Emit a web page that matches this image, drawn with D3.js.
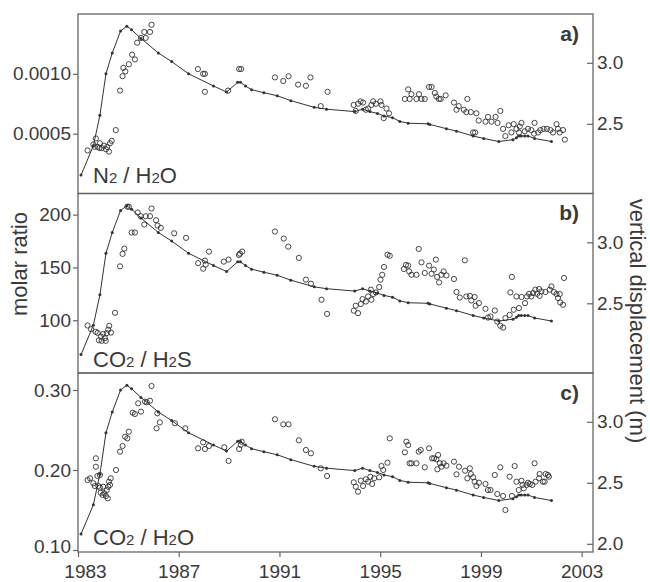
<!DOCTYPE html>
<html>
<head>
<meta charset="utf-8">
<script src="https://cdn.jsdelivr.net/npm/d3@7"></script>
<style>
body { margin: 0; background: #fff; }
svg text { font-family: "Liberation Sans", Arial, sans-serif; fill: #3a3a3a; }
</style>
</head>
<body>
<svg id="chart" width="650" height="582"></svg>
<script>
// x ticks (years)
const yearTicks = [1983, 1987, 1991, 1995, 1999, 2003];

// vertical displacement (m), same curve in every panel
const displacement = [
  [1983.12, 2.08], [1983.61, 2.32], [1983.87, 2.57], [1984.11, 2.91], [1984.36, 3.08],
  [1984.69, 3.26], [1984.94, 3.30], [1985.13, 3.27], [1985.50, 3.20], [1986.19, 3.08],
  [1986.72, 3.01], [1987.39, 2.91], [1988.38, 2.81], [1988.90, 2.76], [1989.34, 2.84],
  [1989.45, 2.84], [1989.65, 2.81], [1989.89, 2.78], [1990.38, 2.755], [1990.91, 2.73],
  [1991.45, 2.69], [1992.38, 2.635], [1992.87, 2.62], [1993.99, 2.60], [1994.30, 2.62],
  [1994.59, 2.60], [1994.89, 2.585], [1995.15, 2.565], [1995.49, 2.55], [1995.78, 2.52],
  [1996.11, 2.505], [1996.90, 2.50], [1996.97, 2.495], [1997.63, 2.46], [1998.03, 2.44],
  [1998.69, 2.40], [1999.11, 2.38], [1999.71, 2.355], [2000.27, 2.37], [2000.41, 2.385],
  [2000.50, 2.40], [2000.60, 2.40], [2000.74, 2.40], [2000.87, 2.40], [2001.13, 2.38],
  [2001.80, 2.355]
];

// N2 / H2O molar ratio
const n2h2o = [
  [1983.38, 0.00036], [1983.61, 0.00041], [1983.66, 0.00039], [1983.71, 0.00046], [1983.78, 0.00039],
  [1983.85, 0.00038], [1983.87, 0.00042], [1983.94, 0.00038], [1984.03, 0.00040], [1984.11, 0.00037],
  [1984.16, 0.00039], [1984.23, 0.00035], [1984.27, 0.00042], [1984.34, 0.00044], [1984.50, 0.00053],
  [1984.67, 0.00086], [1984.77, 0.00098], [1984.80, 0.00105], [1984.88, 0.00102], [1985.02, 0.00108],
  [1985.15, 0.00116], [1985.26, 0.00112], [1985.35, 0.00126], [1985.50, 0.00130], [1985.63, 0.00135],
  [1985.69, 0.00130], [1985.86, 0.00135], [1985.92, 0.00141],
  [1987.76, 0.00104], [1987.97, 0.00100], [1988.04, 0.00100], [1988.04, 0.00085], [1988.96, 0.00086],
  [1989.40, 0.00104], [1989.48, 0.00104], [1990.82, 0.00097], [1991.15, 0.00094], [1991.36, 0.00098],
  [1991.74, 0.00091], [1992.05, 0.00090], [1992.23, 0.00097], [1992.64, 0.00073], [1992.91, 0.00085],
  [1993.95, 0.00074], [1994.03, 0.00069], [1994.12, 0.00075], [1994.22, 0.00077], [1994.32, 0.00076],
  [1994.43, 0.00070], [1994.52, 0.00071], [1994.65, 0.00074], [1994.72, 0.00077], [1994.83, 0.00075],
  [1995.01, 0.00077], [1995.05, 0.00074], [1995.14, 0.00063], [1995.25, 0.00071], [1995.35, 0.00067],
  [1995.98, 0.00079], [1996.11, 0.00087], [1996.17, 0.00079], [1996.24, 0.00083], [1996.44, 0.00079],
  [1996.54, 0.00083], [1996.64, 0.00079], [1996.77, 0.00079], [1996.94, 0.00089], [1997.04, 0.00089],
  [1997.17, 0.00084], [1997.23, 0.00081], [1997.33, 0.00079], [1997.40, 0.00079], [1997.60, 0.00082],
  [1997.93, 0.00076], [1998.03, 0.00070], [1998.12, 0.00073], [1998.32, 0.00070], [1998.42, 0.00068],
  [1998.46, 0.00079], [1998.60, 0.00068], [1998.69, 0.00051], [1998.77, 0.00051], [1998.82, 0.00067],
  [1998.91, 0.00061], [1999.18, 0.00060], [1999.28, 0.00064], [1999.42, 0.00060], [1999.58, 0.00064],
  [1999.66, 0.00059], [1999.77, 0.00069], [1999.88, 0.00054], [1999.97, 0.00048], [2000.10, 0.00057],
  [2000.21, 0.00051], [2000.30, 0.00058], [2000.41, 0.00054], [2000.51, 0.00051], [2000.54, 0.00056],
  [2000.61, 0.00059], [2000.74, 0.00052], [2000.87, 0.00054], [2001.00, 0.00053], [2001.11, 0.00050],
  [2001.13, 0.00059], [2001.27, 0.00051], [2001.36, 0.00053], [2001.49, 0.00054], [2001.62, 0.00054],
  [2001.76, 0.00053], [2001.86, 0.00051], [2002.00, 0.00058], [2002.06, 0.00054], [2002.13, 0.00051],
  [2002.26, 0.00053], [2002.33, 0.00045]
];

// CO2 / H2S molar ratio
const co2h2s = [
  [1983.38, 95], [1983.52, 91.5], [1983.70, 89], [1983.78, 88], [1983.83, 81], [1983.91, 84.5],
  [1983.94, 80.5], [1984.00, 87], [1984.07, 83], [1984.10, 80.5], [1984.14, 87.7], [1984.20, 91],
  [1984.24, 94.7], [1984.31, 88.3], [1984.47, 107], [1984.67, 151], [1984.77, 162.8], [1984.84, 167.8],
  [1984.96, 207.5], [1985.02, 207.5], [1985.13, 183], [1985.26, 183], [1985.37, 202], [1985.49, 198.5],
  [1985.63, 190.6], [1985.69, 198.5], [1985.86, 198.5], [1985.92, 205.8], [1986.10, 194.7], [1986.16, 189.7],
  [1986.29, 187.5], [1986.82, 182.3], [1987.29, 178], [1987.77, 154], [1987.97, 148.8], [1988.04, 156.4],
  [1988.07, 152.6], [1988.20, 165], [1988.79, 155.5], [1988.98, 157.4], [1989.39, 161.8], [1989.43, 163],
  [1989.52, 165], [1990.82, 184], [1991.17, 177.3], [1991.35, 169.7], [1991.77, 159], [1992.05, 138.4],
  [1992.25, 134.6], [1992.67, 119.4], [1992.89, 106],
  [1993.95, 109], [1994.03, 113.7], [1994.12, 106.7], [1994.23, 115.3], [1994.30, 120], [1994.43, 117.7],
  [1994.52, 122.5], [1994.63, 128.9], [1994.65, 119.4], [1994.72, 124.8], [1994.83, 126.3], [1994.96, 131.4],
  [1995.01, 138.4], [1995.08, 143], [1995.15, 150.4], [1995.29, 162], [1995.38, 161], [1995.94, 148.5],
  [1996.02, 152.3], [1996.11, 151.7], [1996.15, 146.2], [1996.24, 143], [1996.44, 143], [1996.53, 167.5],
  [1996.64, 154.8], [1996.77, 144.7], [1996.94, 151.7], [1997.04, 144], [1997.13, 148], [1997.21, 157.4],
  [1997.26, 141], [1997.34, 135.8], [1997.43, 143], [1997.52, 146.2], [1997.63, 142.4], [1997.93, 139],
  [1998.03, 126.7], [1998.16, 121.5], [1998.36, 156.7], [1998.42, 122.5], [1998.56, 123], [1998.62, 118.7],
  [1998.75, 122], [1998.79, 113.7], [1998.92, 116.2], [1999.18, 110.8], [1999.28, 102.5], [1999.38, 103.5],
  [1999.55, 109.2], [1999.65, 98.7], [1999.77, 94.7], [1999.88, 93], [1999.97, 102], [2000.14, 105],
  [2000.17, 126.3], [2000.23, 141], [2000.30, 109.9], [2000.41, 122.5], [2000.51, 111.5], [2000.61, 122],
  [2000.75, 116.2], [2000.83, 122.5], [2000.91, 125], [2001.00, 122.5], [2001.07, 125.7], [2001.16, 128.9],
  [2001.23, 125], [2001.31, 129.5], [2001.33, 123], [2001.40, 127.2], [2001.56, 126.7], [2001.73, 128.9],
  [2001.80, 132], [2001.90, 126.7], [2002.00, 124.8], [2002.06, 121], [2002.13, 124.8], [2002.15, 116.8],
  [2002.26, 114.6], [2002.30, 140]
];

// CO2 / H2O molar ratio
const co2h2o = [
  [1983.38, 0.1875], [1983.48, 0.1896], [1983.61, 0.1834], [1983.67, 0.180], [1983.71, 0.2146],
  [1983.71, 0.2041], [1983.77, 0.1925], [1983.81, 0.180], [1983.87, 0.1938], [1983.87, 0.1779],
  [1983.90, 0.1716], [1983.98, 0.1688], [1984.00, 0.1791], [1984.04, 0.1709], [1984.11, 0.1675],
  [1984.14, 0.175], [1984.18, 0.1646], [1984.20, 0.1791], [1984.23, 0.1854], [1984.27, 0.1813],
  [1984.30, 0.1896], [1984.51, 0.200], [1984.67, 0.2229], [1984.77, 0.230], [1984.87, 0.2416],
  [1984.96, 0.2396], [1985.02, 0.2479], [1985.17, 0.2716], [1985.26, 0.270], [1985.39, 0.2834],
  [1985.50, 0.2729], [1985.66, 0.2854], [1985.73, 0.2846], [1985.86, 0.2866], [1985.92, 0.305],
  [1986.12, 0.2521], [1986.15, 0.2709], [1986.25, 0.2596], [1986.85, 0.2584], [1987.26, 0.2521],
  [1987.77, 0.2271], [1987.97, 0.2346], [1988.04, 0.2263], [1988.20, 0.230], [1988.81, 0.2284],
  [1988.98, 0.2113], [1989.40, 0.2263], [1989.46, 0.2313], [1989.50, 0.2354], [1990.82, 0.2634],
  [1991.15, 0.2571], [1991.36, 0.2571], [1991.77, 0.2371], [1992.05, 0.225], [1992.25, 0.2209],
  [1992.64, 0.2021], [1992.89, 0.1925],
  [1993.95, 0.1846], [1994.03, 0.1791], [1994.12, 0.1729], [1994.23, 0.1866], [1994.32, 0.180],
  [1994.43, 0.1884], [1994.52, 0.1854], [1994.61, 0.1916], [1994.68, 0.1825], [1994.76, 0.1896],
  [1994.96, 0.1909], [1995.05, 0.205], [1995.12, 0.200], [1995.29, 0.2091], [1995.38, 0.2396],
  [1995.98, 0.2221], [1996.04, 0.2354], [1996.11, 0.2313], [1996.17, 0.2084], [1996.24, 0.2084],
  [1996.44, 0.2084], [1996.53, 0.2229], [1996.61, 0.225], [1996.77, 0.2034], [1996.94, 0.2271],
  [1997.06, 0.2146], [1997.14, 0.2146], [1997.23, 0.2134], [1997.27, 0.2009], [1997.30, 0.2188],
  [1997.37, 0.2084], [1997.43, 0.2041], [1997.52, 0.2084], [1997.63, 0.2054], [1997.93, 0.2104],
  [1998.03, 0.1946], [1998.13, 0.2041], [1998.37, 0.1991], [1998.46, 0.1896], [1998.56, 0.2021],
  [1998.60, 0.195], [1998.69, 0.1909], [1998.75, 0.1854], [1998.82, 0.180], [1998.92, 0.1841],
  [1999.18, 0.1825], [1999.28, 0.175], [1999.38, 0.175], [1999.55, 0.1938], [1999.65, 0.170],
  [1999.77, 0.2034], [1999.88, 0.1675], [1999.97, 0.150], [2000.14, 0.1916], [2000.23, 0.1675],
  [2000.34, 0.205], [2000.41, 0.1854], [2000.50, 0.175], [2000.61, 0.1866], [2000.65, 0.1813],
  [2000.70, 0.1771], [2000.81, 0.1813], [2000.87, 0.1841], [2000.94, 0.1825], [2001.04, 0.1813],
  [2001.13, 0.2084], [2001.17, 0.1854], [2001.31, 0.1896], [2001.33, 0.195], [2001.46, 0.1854],
  [2001.53, 0.1854], [2001.57, 0.195], [2001.66, 0.1938], [2001.70, 0.1916]
];

// tick values
const n2Ticks = [0.0005, 0.0010];
const h2sTicks = [100, 150, 200];
const h2oTicks = [0.10, 0.20, 0.30];
const dispTicksAB = [2.5, 3.0];
const dispTicksC = [2.0, 2.5, 3.0];

// series labels, [text, isSubscript]
const labelN2 = [['N', 0], ['2', 1], [' / H', 0], ['2', 1], ['O', 0]];
const labelH2S = [['CO', 0], ['2', 1], [' / H', 0], ['2', 1], ['S', 0]];
const labelH2O = [['CO', 0], ['2', 1], [' / H', 0], ['2', 1], ['O', 0]];

const svg = d3.select('#chart');
const left = 78, right = 593;
const ink = '#333', frame = '#666';

const x = d3.scaleLinear().domain([1983, 2003.45]).range([left, right]);

const panels = [
  { top: 14, bottom: 193.5, data: n2h2o, domain: [0, 0.0015], ticks: n2Ticks, fmt: d3.format('.4f'),
    letter: 'a)', label: labelN2, labelY: 183, rTicks: dispTicksAB },
  { top: 193.5, bottom: 373, data: co2h2s, domain: [50, 220], ticks: h2sTicks, fmt: d3.format('d'),
    letter: 'b)', label: labelH2S, labelY: 366.5, rTicks: dispTicksAB },
  { top: 373, bottom: 552, data: co2h2o, domain: [0.0975, 0.32125], ticks: h2oTicks, fmt: d3.format('.2f'),
    letter: 'c)', label: labelH2O, labelY: 545, rTicks: dispTicksC }
];

panels.forEach((p, i) => {
  const g = svg.append('g');
  const yL = d3.scaleLinear().domain(p.domain).range([p.bottom, p.top]);
  const yR = d3.scaleLinear().domain([1.933, 3.40]).range([p.top + 179, p.top]);

  // displacement line with small dots
  const line = d3.line().x(d => x(d[0])).y(d => yR(d[1]));
  g.append('path')
    .datum(displacement)
    .attr('d', line)
    .attr('fill', 'none')
    .attr('stroke', ink)
    .attr('stroke-width', 1);
  g.selectAll('.dot')
    .data(displacement)
    .enter()
    .append('circle')
    .attr('cx', d => x(d[0]))
    .attr('cy', d => yR(d[1]))
    .attr('r', 1.5)
    .attr('fill', ink);

  // ratio samples as open circles
  g.selectAll('.sample')
    .data(p.data)
    .enter()
    .append('circle')
    .attr('cx', d => x(d[0]))
    .attr('cy', d => yL(d[1]))
    .attr('r', 2.6)
    .attr('fill', 'none')
    .attr('stroke', ink)
    .attr('stroke-width', 0.9);

  // frame
  g.append('rect')
    .attr('x', left).attr('y', p.top)
    .attr('width', right - left).attr('height', p.bottom - p.top)
    .attr('fill', 'none')
    .attr('stroke', frame)
    .attr('stroke-width', 1.3);

  // left axis
  const la = g.append('g')
    .attr('transform', `translate(${left},0)`)
    .call(d3.axisLeft(yL).tickValues(p.ticks).tickFormat(p.fmt).tickSize(5).tickSizeOuter(0).tickPadding(2));
  // right axis, ticks point inward
  const ra = g.append('g')
    .attr('transform', `translate(${right},0)`)
    .call(d3.axisRight(yR).tickValues(p.rTicks).tickFormat(d3.format('.1f')).tickSize(-6).tickSizeOuter(0).tickPadding(4));
  [la, ra].forEach(a => {
    a.select('.domain').remove();
    a.selectAll('line').attr('stroke', frame).attr('stroke-width', 1.2);
    a.selectAll('text').attr('font-size', 19).attr('font-family', null).attr('fill', '#3a3a3a');
  });
  if (i === 2) {
    la.selectAll('.tick text').filter(d => d === 0.10).attr('y', -4);
  }

  // panel letter
  g.append('text')
    .attr('x', 579).attr('y', p.top + 26.5)
    .attr('text-anchor', 'end')
    .attr('font-size', 21)
    .attr('font-weight', 'bold')
    .text(p.letter);

  // series label with subscripts
  const t = g.append('text')
    .attr('x', 93).attr('y', p.labelY)
    .attr('font-size', 22);
  p.label.forEach(part => {
    t.append('tspan')
      .attr('font-size', part[1] ? 15 : 22)
      .text(part[0]);
  });
});

// bottom x axis
const xa = svg.append('g')
  .attr('transform', 'translate(0,552)')
  .call(d3.axisBottom(x).tickValues(yearTicks).tickFormat(d3.format('d')).tickSize(5).tickSizeOuter(0).tickPadding(7.5));
xa.select('.domain').remove();
xa.selectAll('line').attr('stroke', frame).attr('stroke-width', 1.2);
xa.selectAll('text').attr('font-size', 19).attr('font-family', null).attr('fill', '#3a3a3a');
xa.selectAll('.tick text').filter(d => d === 1983).attr('dx', 7);

// axis titles
svg.append('text')
  .attr('transform', 'translate(27,264) rotate(-90)')
  .attr('text-anchor', 'middle')
  .attr('font-size', 22)
  .text('molar ratio');
svg.append('text')
  .attr('transform', 'translate(630,321) rotate(90)')
  .attr('text-anchor', 'middle')
  .attr('font-size', 22)
  .text('vertical displacement (m)');
</script>
</body>
</html>
